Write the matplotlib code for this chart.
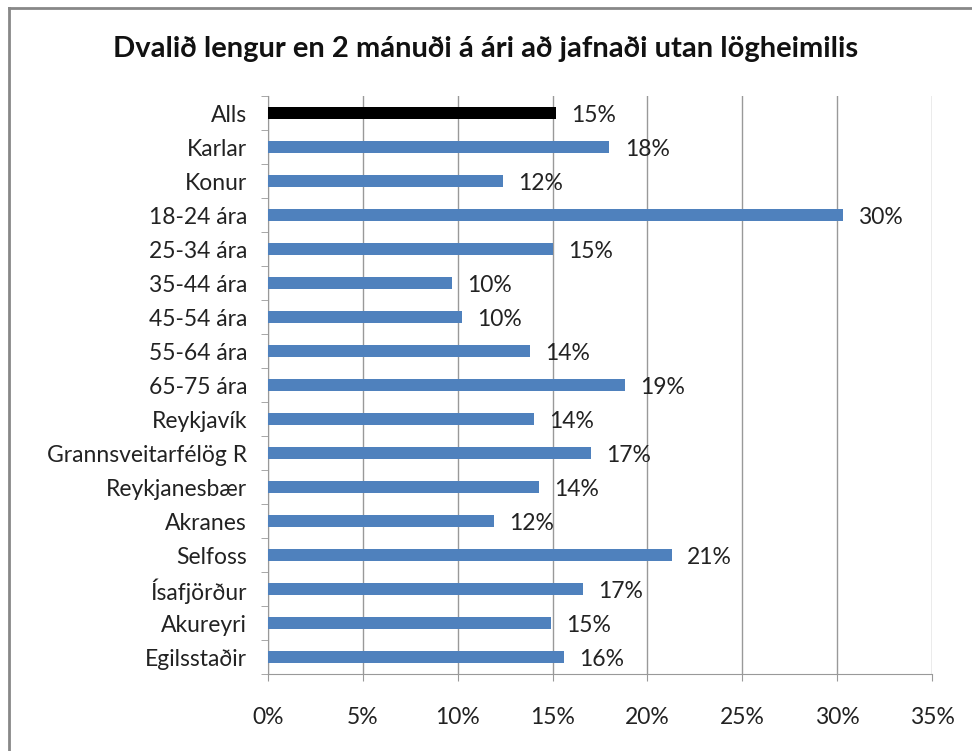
import matplotlib
matplotlib.use("Agg")
import matplotlib.pyplot as plt
from matplotlib.lines import Line2D
from matplotlib.ticker import FixedLocator

plt.rcParams['font.family'] = ['Lato', 'DejaVu Sans']

categories = ["Alls", "Karlar", "Konur", "18-24 ára", "25-34 ára", "35-44 ára",
              "45-54 ára", "55-64 ára", "65-75 ára", "Reykjavík",
              "Grannsveitarfélög R", "Reykjanesbær", "Akranes", "Selfoss",
              "Ísafjörður", "Akureyri", "Egilsstaðir"]
values = [15.2, 18.0, 12.4, 30.3, 15.0, 9.7, 10.2, 13.8, 18.8, 14.0,
          17.0, 14.3, 11.9, 21.3, 16.6, 14.9, 15.6]
labels = ["15%", "18%", "12%", "30%", "15%", "10%", "10%", "14%", "19%", "14%",
          "17%", "14%", "12%", "21%", "17%", "15%", "16%"]
xticks = [0, 5, 10, 15, 20, 25, 30, 35]

fig = plt.figure(figsize=(9.72, 7.51), dpi=100)
ax = fig.add_axes([268 / 972, 1 - 674 / 751, 664 / 972, 578 / 751])

n = len(categories)
ypos = list(range(n))
colors = ["black"] + ["#4f81bd"] * (n - 1)
ax.barh(ypos, values, height=0.38, color=colors, zorder=3)

for y, v, lab in zip(ypos, values, labels):
    ax.text(v + 0.8, y + 0.08, lab, va="center", ha="left", fontsize=16.5, color="#222222")

ax.set_xlim(0, 35)
ax.set_ylim(n - 0.5, -0.5)
ax.set_xticks(xticks)
ax.set_xticklabels([f"{t}%" for t in xticks], fontsize=16.5, color="#222222")
ax.set_yticks(ypos)
ax.set_yticklabels(categories, fontsize=16.5, color="#222222")
ax.tick_params(axis="y", which="major", length=0, pad=15)
ax.yaxis.set_minor_locator(FixedLocator([i - 0.5 for i in range(n + 1)]))
ax.tick_params(axis="y", which="minor", length=5, color="#999999", direction="out")
ax.tick_params(axis="x", length=5, color="#999999", pad=19)

ax.grid(axis="x", color="#999999", linewidth=1, zorder=0)
for s in ("top", "right"):
    ax.spines[s].set_visible(False)
for s in ("left", "bottom"):
    ax.spines[s].set_color("#999999")

fig.text(0.5, 1 - 49 / 751, "Dvalið lengur en 2 mánuði á ári að jafnaði utan lögheimilis",
         ha="center", va="center", fontsize=21, fontweight="bold", color="#111111")

# outer chart frame (cropped at right and bottom)
fig.add_artist(Line2D([9 / 972, 1], [1 - 8 / 751, 1 - 8 / 751], transform=fig.transFigure,
                      color="#888888", linewidth=2))
fig.add_artist(Line2D([9 / 972, 9 / 972], [0, 1 - 8 / 751], transform=fig.transFigure,
                      color="#888888", linewidth=2))

fig.savefig("out.png", dpi=100)
